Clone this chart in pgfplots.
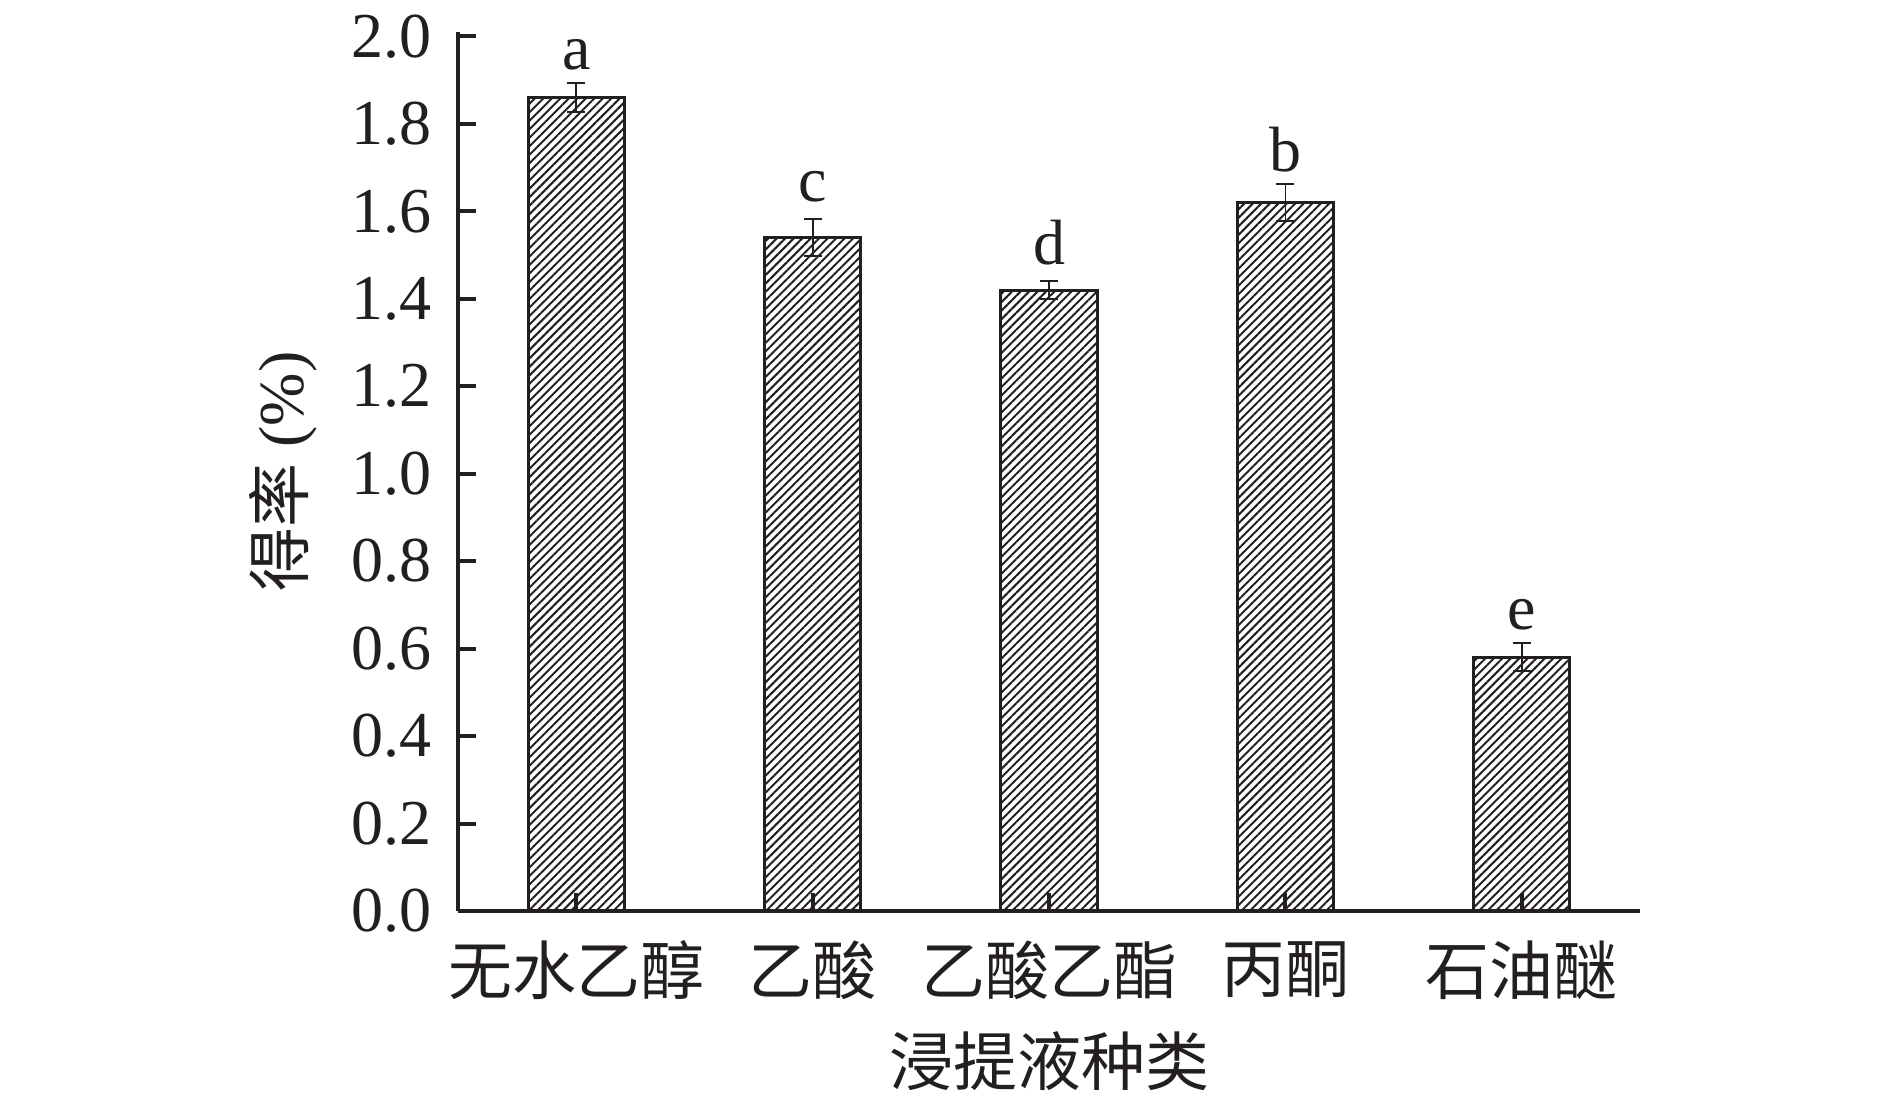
\documentclass[border=0pt]{standalone}
\usepackage{fontspec}
\setmainfont{Liberation Serif}
\newfontfamily\cjk{Noto Sans CJK SC}
\usepackage{pgfplots}
\pgfplotsset{compat=1.18}
\usetikzlibrary{patterns.meta}
\definecolor{ink}{RGB}{35,31,32}

\begin{document}
\fontsize{16}{19}\selectfont
\begin{tikzpicture}
\path[use as bounding box] (-114.5pt,-47.25pt) rectangle (358pt,227.75pt);
\begin{axis}[
  at={(0,0)}, anchor=south west, scale only axis,
  width=295.5pt, height=219.75pt,
  xmin=-0.5, xmax=4.5, ymin=0, ymax=2.01,
  axis lines=left, axis line style={-, line width=1pt, draw=ink},
  axis on top, clip=false,
  tick align=inside, major tick length=4.5pt,
  tick style={line width=1pt, draw=ink},
  xtick={0,1,2,3,4},
  xticklabels={无水乙醇,乙酸,乙酸乙酯,丙酮,石油醚},
  xticklabel style={font=\cjk\fontsize{16}{19}\selectfont, text=ink, anchor=center, yshift=-14.75pt},
  ytick={0,0.2,0.4,0.6,0.8,1.0,1.2,1.4,1.6,1.8,2.0},
  yticklabel style={font=\fontsize{16}{19}\selectfont, text=ink, xshift=-1.2pt},
  /pgf/number format/assume math mode=true,
  yticklabel={\pgfmathprintnumber[fixed,fixed zerofill,precision=1]{\tick}},
  ylabel={{\cjk 得率} (\%)},
  ylabel style={font=\fontsize{16}{19}\selectfont, text=ink, at={(axis description cs:-0.148,0.5)}, anchor=center},
  xlabel={浸提液种类},
  xlabel style={font=\cjk\fontsize{16}{19}\selectfont, text=ink, at={(axis description cs:0.5,-0.1706)}, anchor=center},
]
\addplot[ybar, bar width=0.407, draw=ink, line width=0.75pt,
  pattern={Lines[angle=45,distance=1.5pt,line width=0.5pt]}, pattern color=ink,
  error bars/.cd, y dir=both, y explicit,
  error bar style={line width=0.45pt, draw=ink, solid},
  error mark options={rotate=90, line width=0.45pt, mark size=2.25pt, draw=ink, solid}]
  coordinates {
  (0,1.86) +- (0,0.033)
  (1,1.54) +- (0,0.043)
  (2,1.42) +- (0,0.020)
  (3,1.62) +- (0,0.042)
  (4,0.58) +- (0,0.032)
  };
\node[anchor=base, text=ink, font=\fontsize{16}{19}\selectfont] at (axis cs:0,1.924) {a};
\node[anchor=base, text=ink, font=\fontsize{16}{19}\selectfont] at (axis cs:1,1.623) {c};
\node[anchor=base, text=ink, font=\fontsize{16}{19}\selectfont] at (axis cs:2,1.478) {d};
\node[anchor=base, text=ink, font=\fontsize{16}{19}\selectfont] at (axis cs:3,1.692) {b};
\node[anchor=base, text=ink, font=\fontsize{16}{19}\selectfont] at (axis cs:4,0.643) {e};
\end{axis}
\end{tikzpicture}
\end{document}
